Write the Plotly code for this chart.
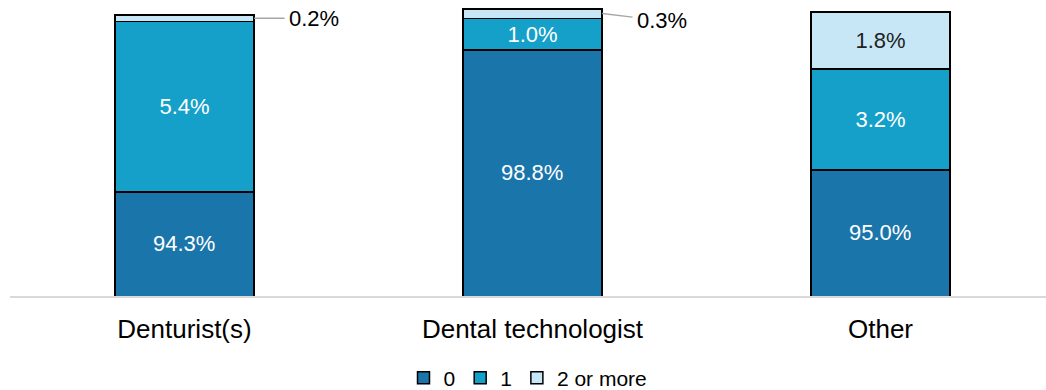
import plotly.graph_objects as go

categories = ["Denturist(s)", "Dental technologist", "Other"]
series_names = ["0", "1", "2 or more"]
vals_0 = [94.3, 98.8, 95.0]
vals_1 = [5.4, 1.0, 3.2]
vals_2 = [0.2, 0.3, 1.8]

colors = ["#1a75aa", "#14a0c8", "#c8e7f6"]
text_colors = ["white", "white", "#222222"]
FONT = "Liberation Sans, Arial, sans-serif"
Y_MIN = 91
Y_MAX = 100.38

fig = go.Figure()
all_vals = [vals_0, vals_1, vals_2]
for i, (name, vals) in enumerate(zip(series_names, all_vals)):
    texts = []
    for v in vals:
        if v < 0.5 or i == 0:
            texts.append("")
        else:
            texts.append(f"{v:.1f}%")
    fig.add_trace(go.Bar(
        x=categories, y=vals, name=name,
        marker=dict(color=colors[i], line=dict(color="black", width=1.5)),
        text=texts, textposition="inside", insidetextanchor="middle",
        constraintext="none",
        textfont=dict(color=text_colors[i], size=22, family=FONT),
        width=0.4, hoverinfo="skip",
    ))

# labels for bottom segments (centre of the visible part)
for ci, cat in enumerate(categories):
    fig.add_annotation(
        x=ci, y=(Y_MIN + vals_0[ci]) / 2, xref="x", yref="y",
        text=f"{vals_0[ci]:.1f}%", showarrow=False,
        font=dict(size=22, color="white", family=FONT),
    )

# outside labels for small segments
for ci, cat in enumerate(categories):
    v = vals_2[ci]
    if v < 0.5:
        ytop = vals_0[ci] + vals_1[ci] + v / 2
        fig.add_annotation(
            x=ci + 0.2, y=ytop, xref="x", yref="y",
            text=f"{v:.1f}%", showarrow=True, arrowhead=0,
            arrowwidth=1.5, arrowcolor="#a6a6a6",
            ax=60, ay=(0 if ci == 0 else 7), standoff=0,
            borderpad=4,
            font=dict(size=22, color="black", family=FONT),
        )

fig.update_layout(
    barmode="stack",
    width=1046, height=390,
    margin=dict(l=10, r=0, t=0, b=94),
    paper_bgcolor="white", plot_bgcolor="white",
    font=dict(family=FONT, color="black"),
    bargap=0.6,
    legend=dict(orientation="h", x=0.5, xanchor="center",
                yref="container", y=12 / 390, yanchor="middle",
                font=dict(size=21, family=FONT), itemwidth=30,
                entrywidth=0, entrywidthmode="pixels",
                traceorder="normal", tracegroupgap=0),
    showlegend=True,
)
fig.update_xaxes(
    type="category", range=[-0.5014, 2.4756],
    showline=True, linecolor="#d9d9d9", linewidth=2,
    ticks="outside", ticklen=9, tickcolor="rgba(0,0,0,0)",
    tickfont=dict(size=26, family=FONT, color="black"),
    showgrid=False, zeroline=False,
)
fig.update_yaxes(range=[Y_MIN, Y_MAX], visible=False, showgrid=False, zeroline=False)

fig.write_html("out.html")
